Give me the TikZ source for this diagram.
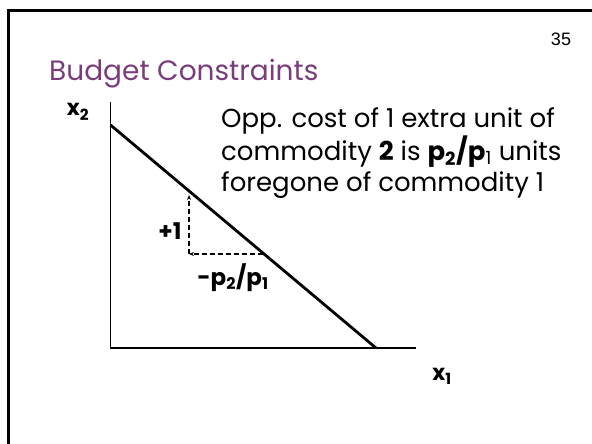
\documentclass[tikz,border=0pt]{standalone}
\usepackage{fontspec}
\setmainfont{Poppins}
\newfontfamily\numfont{Liberation Sans}
\usetikzlibrary{arrows.meta,positioning}
\definecolor{Ink}{HTML}{000000}
\definecolor{Plum}{HTML}{7A3D7C}
\tikzset{
  >=Stealth,
  frameline/.style={line width=3pt,draw=Ink},
  axis/.style={line width=1.2pt,draw=Ink},
  budget/.style={line width=2.8pt,draw=Ink},
  slope/.style={->,dash pattern=on 5pt off 3pt,line width=1.2pt,draw=Ink,>={Stealth[length=5pt,width=4pt]}},
  lab/.style={font=\fontsize{23}{26}\selectfont\bfseries,inner sep=0pt},
  body/.style={font=\fontsize{26}{31}\selectfont,align=left,inner sep=0pt,anchor=base west}
}
\begin{document}
\begin{tikzpicture}[x=1pt,y=-1pt]
    \useasboundingbox (0,0) rectangle (592,444);
    % slide frame
    \draw[frameline] (8.5,444) -- (8.5,10.5) -- (592,10.5);
    \node[font=\fontsize{28}{32}\selectfont,text=Plum,anchor=base west,inner sep=0pt] (title) at (49,81) {Budget Constraints};
    \node[font=\numfont\fontsize{18}{20}\selectfont,inner sep=0pt] (page) at (561,39) {35};
    % axes
    \coordinate (O) at (110.5,348);
    \coordinate (ytop) at (110.5,102);
    \coordinate (xend) at (416,348);
    \draw[axis] (ytop) -- (O) -- (xend);
    \node[lab,font=\fontsize{22}{24}\selectfont\bfseries] (x2) at (78,112) {x\textsubscript{2}};
    \node[lab,font=\fontsize{22}{24}\selectfont\bfseries] (x1) at (442,376) {x\textsubscript{1}};
    % budget line
    \coordinate (A) at (110.5,125);
    \coordinate (B) at (376,348);
    \draw[budget] (A) -- (B);
    % slope triangle
    \coordinate (C) at (189,254);
    \coordinate (P) at (189,195);
    \coordinate (Q) at (263,254);
    \draw[slope] (C) -- (P);
    \draw[slope] (Q) -- (C);
    \node[lab] (up) at (170,231) {+1};
    \node[lab] (run) at (233,278) {-p\textsubscript{2}/p\textsubscript{1}};
    % last line sits on the anchor
    \node[body] (note) at (221,191) {Opp. cost of 1 extra unit of\\
      commodity \textbf{2} is \textbf{p\textsubscript{2}/p}\textsubscript{1} units\\
      foregone of commodity 1};
\end{tikzpicture}
\end{document}
